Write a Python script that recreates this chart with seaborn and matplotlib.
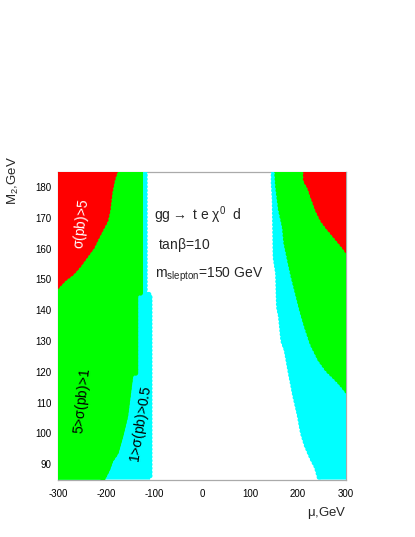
import matplotlib
matplotlib.use("Agg")
import matplotlib.pyplot as plt
from matplotlib.ticker import MultipleLocator
from matplotlib.transforms import ScaledTranslation
import seaborn as sns

# ---------------- data (boundaries) ----------------
# left side: red region ends at x = red_left(y)
red_left_y = [185, 182, 178, 172.5, 169, 167, 164, 160.5, 157.5, 154.5, 152, 150, 147, 85]
red_left_x = [-175, -181, -186, -190, -195, -202, -212, -223, -237, -251, -265, -282, -300, -300]
# green region ends at x = green_left(y)
green_left_y = [185, 145.5, 145, 119.5, 119, 105.5, 99, 93.5, 91, 88, 85]
green_left_x = [-123, -123, -133, -133, -143, -154, -164, -174, -185, -192, -202]
# cyan region ends at x = cyan_left(y)
cyan_left_y = [185, 145.5, 145, 85]
cyan_left_x = [-113, -113, -103, -103]

# right side: cyan region starts at x = cyan_right(y)
cyan_right_y = [185, 181, 176, 157, 152, 141, 138, 130, 127, 120, 112, 106, 100, 96, 92, 89, 85]
cyan_right_x = [143, 143, 145, 147, 152, 154, 158, 163, 170, 178, 188, 197, 204, 212, 223, 233, 240]
# green region starts at x = green_right(y)
green_right_y = [185, 180, 172.5, 167, 162, 156, 151, 145.5, 140, 134.6, 129, 124, 120.5, 118.4, 116.3, 113, 85]
green_right_x = [150, 152, 158, 166, 169, 177, 184, 193, 202, 212, 224, 240, 256, 270, 283, 300, 300]
# red region starts at x = red_right(y)
red_right_y = [185, 182, 180, 176.8, 172.5, 169.3, 167, 163.8, 160.6, 158.4, 85]
red_right_x = [210, 210, 218, 225, 235, 245, 256, 273, 290, 300, 300]

x_ticks = [-300, -200, -100, 0, 100, 200, 300]
y_ticks = [90, 100, 110, 120, 130, 140, 150, 160, 170, 180]

RED, GREEN, CYAN = "#ff0000", "#00ff00", "#00ffff"

# ---------------- style ----------------
sns.set_theme(style="white")
plt.rcParams["font.family"] = ["Liberation Sans", "DejaVu Sans"]
plt.rcParams["mathtext.fontset"] = "custom"
plt.rcParams["mathtext.rm"] = "Liberation Sans"
plt.rcParams["mathtext.default"] = "regular"

fig = plt.figure(figsize=(4.15, 5.37), dpi=100)
ax = fig.add_axes([0.1398, 0.107, 0.694, 0.5736])

X0, X1, Y0, Y1 = -300, 300, 85, 185

def rev(a):
    return list(a)[::-1]

# dots bulge outward, so shift the dotted borders back by ~their radius
DOT_LW = 3.6
left_shift = ax.transData + ScaledTranslation(-DOT_LW / 2 / 72, 0, fig.dpi_scale_trans)
right_shift = ax.transData + ScaledTranslation(DOT_LW / 2 / 72, 0, fig.dpi_scale_trans)

# left regions
ax.fill([X0] + red_left_x + [X0], [Y1] + red_left_y + [Y0], color=RED, lw=0, zorder=3,
        transform=left_shift)
ax.fill(green_left_x + rev(red_left_x), green_left_y + rev(red_left_y), color=GREEN, lw=0, zorder=2.9)
ax.fill([X0] + green_left_x + [X0], [Y1] + green_left_y + [Y0], color=GREEN, lw=0, zorder=2.9,
        transform=left_shift)
ax.fill([X0] + cyan_left_x + [X0], [Y1] + cyan_left_y + [Y0], color=CYAN, lw=0, zorder=2.8,
        transform=left_shift)
# right regions
ax.fill(cyan_right_x + [X1, X1], cyan_right_y + [Y0, Y1], color=CYAN, lw=0, zorder=2.8,
        transform=right_shift)
ax.fill(green_right_x + [X1, X1], green_right_y + [Y0, Y1], color=GREEN, lw=0, zorder=2.9,
        transform=right_shift)
ax.fill(red_right_x + [X1, X1], red_right_y + [Y0, Y1], color=RED, lw=0, zorder=3,
        transform=right_shift)

# scalloped (dotted) borders, like the grid-of-dots rendering of the original
dot_style = dict(lw=DOT_LW, linestyle=(0, (0.01, 0.75)), dash_capstyle="round")
ax.plot(red_left_x[:-1], red_left_y[:-1], color=RED, zorder=3.05, transform=left_shift, **dot_style)
ax.plot(green_left_x, green_left_y, color=GREEN, zorder=2.95, transform=left_shift, **dot_style)
ax.plot(cyan_left_x, cyan_left_y, color=CYAN, zorder=2.85, transform=left_shift, **dot_style)
ax.plot(cyan_right_x, cyan_right_y, color=CYAN, zorder=2.85, transform=right_shift, **dot_style)
ax.plot(green_right_x[:-1], green_right_y[:-1], color=GREEN, zorder=2.95, transform=right_shift, **dot_style)
ax.plot(red_right_x[:-1], red_right_y[:-1], color=RED, zorder=3.05, transform=right_shift, **dot_style)

ax.set_xlim(X0, X1)
ax.set_ylim(Y0, Y1)
ax.set_xticks(x_ticks)
ax.set_xticklabels([str(v) for v in x_ticks])
ax.set_yticks(y_ticks)
ax.set_yticklabels([str(v) for v in y_ticks])
ax.xaxis.set_minor_locator(MultipleLocator(20))
ax.tick_params(axis="both", which="major", direction="in", length=5, width=0.8,
               color="#999999", labelsize=7, pad=7, labelcolor="black")
ax.tick_params(axis="both", which="minor", direction="in", length=3, width=0.8, color="#999999")
ax.tick_params(axis="y", pad=4.5)
for s in ax.spines.values():
    s.set_color("#aaaaaa")
    s.set_linewidth(0.9)
    s.set_zorder(2)
ax.set_axisbelow(True)

# annotations
ax.text(-100, 170.9, r"gg$\rightarrow$ t e $\chi^0$  d", fontsize=10, ha="left", va="center", zorder=5)
ax.text(-91, 161.1, r"tan$\beta$=10", fontsize=10, ha="left", va="center", zorder=5)
ax.text(-98, 151.4, r"m$_{slepton}$=150 GeV", fontsize=10, ha="left", va="center", zorder=5)
ax.text(-250, 168, r"$\sigma$(pb)>5", fontsize=10, color="white", rotation=84,
        ha="center", va="center", zorder=5)
ax.text(-250, 110.5, r"5>$\sigma$(pb)>1", fontsize=10, color="black", rotation=84,
        ha="center", va="center", zorder=5)
ax.text(-127, 103, r"1>$\sigma$(pb)>0.5", fontsize=10, color="black", rotation=81,
        ha="center", va="center", zorder=5)

fig.text(13 / 415, 1 - 181 / 537, r"M$_2$,GeV", rotation=90, fontsize=9.5, ha="center", va="center")
fig.text(327 / 415, 1 - 513 / 537, r"$\mu$,GeV", fontsize=9.5, ha="center", va="center")

fig.savefig("out.png", dpi=100)
